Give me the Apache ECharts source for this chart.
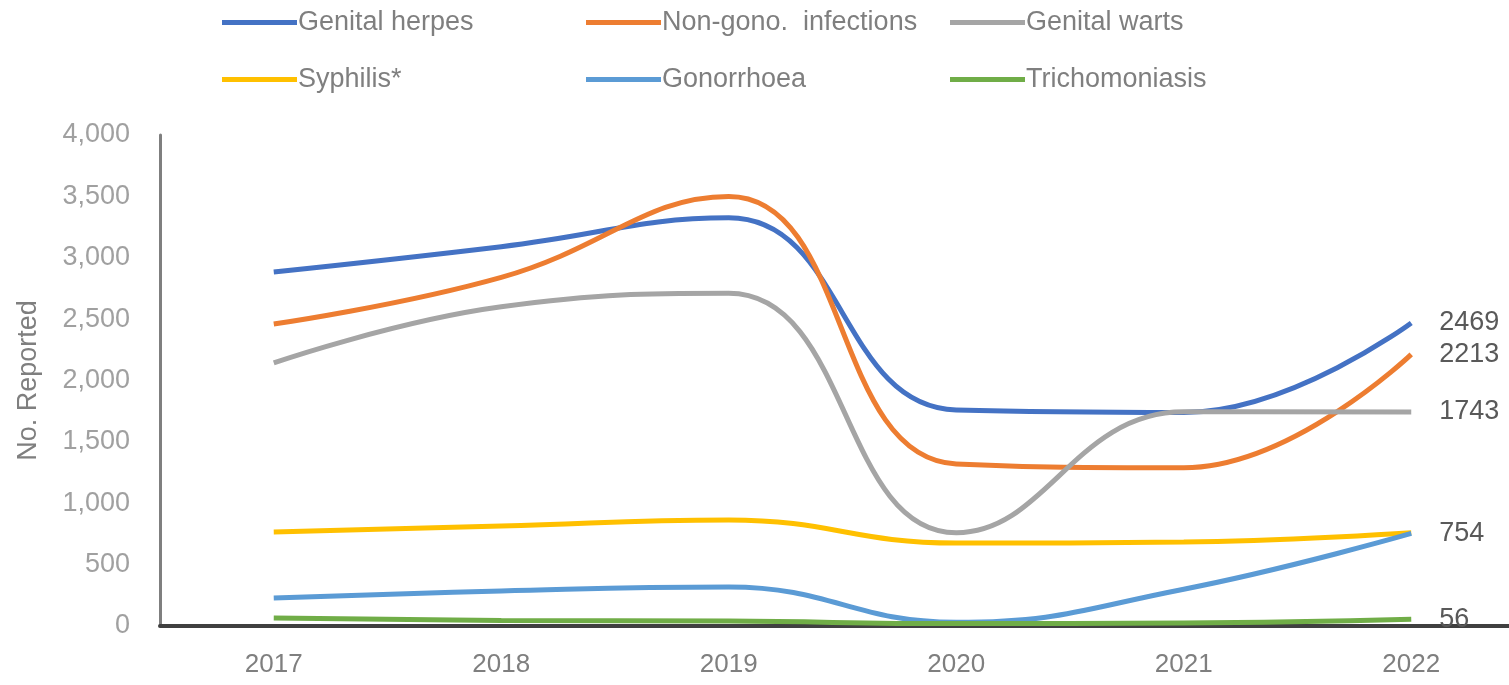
<!DOCTYPE html>
<html>
<head>
<meta charset="utf-8">
<script src="https://cdn.jsdelivr.net/npm/echarts@6/dist/echarts.min.js"></script>
<style>
  html, body { margin: 0; padding: 0; background: #fff; }
  #container { width: 1509px; height: 685px; }
</style>
</head>
<body>
<div id="container"></div>
<script>
const years = ['2017', '2018', '2019', '2020', '2021', '2022'];
const yTicks = { min: 0, max: 4000, interval: 500 };

const genitalHerpes = [2884, 3090, 3325, 1760, 1740, 2469];
const nonGono = [2460, 2840, 3500, 1320, 1290, 2213];
const genitalWarts = [2143, 2600, 2710, 760, 1745, 1743];
const syphilis = [766, 815, 864, 676, 684, 760];
const gonorrhoea = [228, 285, 318, 30, 300, 754];
const trichomoniasis = [65, 45, 40, 20, 25, 56];

const seriesDefs = [
  { name: 'Genital herpes', data: genitalHerpes, color: '#4472C4', label: true },
  { name: 'Non-gono.  infections', data: nonGono, color: '#ED7D31', label: true },
  { name: 'Genital warts', data: genitalWarts, color: '#A5A5A5', label: true },
  { name: 'Syphilis*', data: syphilis, color: '#FFC000', label: false },
  { name: 'Gonorrhoea', data: gonorrhoea, color: '#5B9BD5', label: true },
  { name: 'Trichomoniasis', data: trichomoniasis, color: '#70AD47', label: true }
];

const font = "'Liberation Sans', sans-serif";
const textGray = '#7f7f7f';

const legendBase = {
  orient: 'vertical',
  top: 9,
  icon: 'rect',
  itemWidth: 75,
  itemHeight: 5,
  itemGap: 30,
  padding: 0,
  textStyle: { fontFamily: font, fontSize: 27, color: textGray, padding: [0, 0, 0, -4] }
};

const chart = echarts.init(document.getElementById('container'));

const option = {
  backgroundColor: '#fff',
  animation: false,
  legend: [
    { ...legendBase, left: 222, data: ['Genital herpes', 'Syphilis*'] },
    { ...legendBase, left: 586, data: ['Non-gono.  infections', 'Gonorrhoea'] },
    { ...legendBase, left: 950, data: ['Genital warts', 'Trichomoniasis'] }
  ],
  grid: { left: 160, top: 135, width: 1365, height: 491, containLabel: false, outerBoundsMode: 'none' },
  xAxis: {
    type: 'category',
    data: years,
    boundaryGap: true,
    axisLine: { lineStyle: { color: '#404040', width: 4 } },
    axisTick: { show: false },
    axisLabel: { fontFamily: font, fontSize: 26, color: textGray, margin: 26 }
  },
  yAxis: {
    type: 'value',
    min: yTicks.min,
    max: yTicks.max,
    interval: yTicks.interval,
    name: 'No. Reported',
    nameLocation: 'middle',
    nameGap: 118,
    nameTextStyle: { fontFamily: font, fontSize: 27, color: textGray },
    axisLine: { show: true, lineStyle: { color: '#7f7f7f', width: 3 } },
    axisTick: { show: false },
    splitLine: { show: false },
    axisLabel: {
      fontFamily: font, fontSize: 27, color: '#a0a0a0', margin: 30,
      formatter: v => v.toLocaleString('en-US')
    }
  },
  series: seriesDefs.map(s => ({
    name: s.name,
    type: 'line',
    data: s.data,
    smooth: 0.45,
    symbol: 'none',
    color: s.color,
    lineStyle: { width: 5, color: s.color },
    endLabel: {
      show: s.label,
      formatter: p => String(p.value),
      fontFamily: font,
      fontSize: 27,
      color: '#595959',
      distance: 28
    }
  }))
};

chart.setOption(option);
</script>
</body>
</html>
